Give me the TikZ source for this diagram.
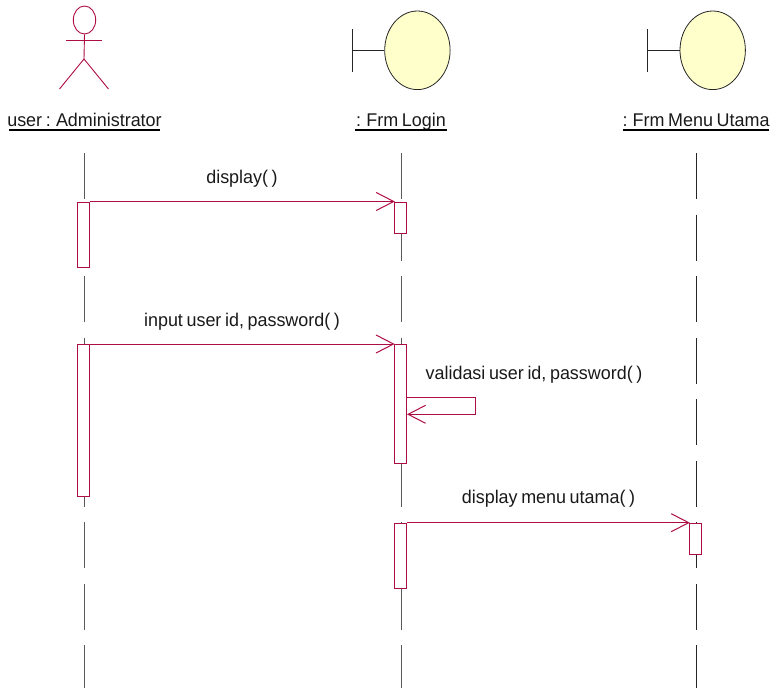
\documentclass[tikz,border=0pt]{standalone}
\usepackage{fontspec}
\setmainfont[FakeStretch=0.975,WordSpace=0.72]{Liberation Sans}
\usetikzlibrary{arrows.meta,shapes.geometric}
\definecolor{rose}{HTML}{AD0E42}
\definecolor{bound}{HTML}{FFFFCC}
\tikzset{
  x=1pt,y=-1pt,
  lifeline/.style={draw=#1,line width=1pt,dash pattern=on 46pt off 15.55pt},
  lifeline/.default={black!65},
  bar/.style={draw=rose,fill=white,line width=1pt,rectangle,minimum width=12.4pt,inner sep=0pt,anchor=north},
  msg/.style={draw=rose,line width=1pt,shorten >=-1pt,-{Straight Barb[length=17.5pt,width=18pt,line width=1pt]}},
  actorline/.style={draw=rose,line width=.9pt},
  stem/.style={draw=black!85,line width=.9pt},
  ball/.style={draw=black!85,fill=bound,line width=.8pt,ellipse,inner sep=0pt,minimum width=65.4pt,minimum height=78.6pt},
  txt/.style={inner sep=0pt,anchor=base,text=black!90,font=\fontsize{18.4}{20}\selectfont},
  title/.style={txt,text depth=3.2pt},
  uline/.style={draw=black,line width=1.5pt},
}
\begin{document}
\begin{tikzpicture}
\useasboundingbox (0,0) rectangle (777,688);
% lifelines
\coordinate (la) at (84,153); \coordinate (lae) at (84,688);
\coordinate (lb) at (401,153); \coordinate (lbe) at (401,688);
\coordinate (lc) at (696,153); \coordinate (lce) at (696,688);
\draw[lifeline] (la) -- (lae);
\draw[lifeline] (lb) -- (lbe);
\draw[lifeline=black!85] (lc) -- (lce);
% actor
\node[draw=rose,line width=.9pt,ellipse,inner sep=0pt,minimum width=22.4pt,minimum height=28pt] (head) at (84.5,20) {};
\coordinate (armL) at (66,40.3); \coordinate (armR) at (101.7,40.3);
\coordinate (hip) at (84,59); \coordinate (legL) at (59.5,89); \coordinate (legR) at (108.5,89);
\draw[actorline] (armL) -- (armR);
\draw[actorline] (head.south) -- (hip);
\draw[actorline] (legL) -- (hip) -- (legR);
% boundary objects
\node[ball] (login) at (417.4,50.3) {};
\coordinate (loginT) at (352.3,29.3); \coordinate (loginB) at (352.3,72); \coordinate (loginM) at (352.3,50.3);
\draw[stem] (loginT) -- (loginB);
\draw[stem] (loginM) -- (login.west);
\node[ball] (menu) at (712.7,50.3) {};
\coordinate (menuT) at (647.3,29.3); \coordinate (menuB) at (647.3,72); \coordinate (menuM) at (647.3,50.3);
\draw[stem] (menuT) -- (menuB);
\draw[stem] (menuM) -- (menu.west);
% titles
\node[title] (tA) at (84.5,126.5) {user : Administrator};
\node[title] (tB) at (401,126.5) {: Frm Login};
\node[title] (tC) at (696,126.5) {: Frm Menu Utama};
\draw[uline] (9,130) -- (160,130);
\draw[uline] (355,130) -- (446.7,130);
\draw[uline] (622.7,130) -- (769.3,130);
% activations
\node[bar,minimum height=65.5pt] (a1) at (83.5,201.5) {};
\node[bar,minimum height=31.5pt] (b1) at (400.5,201.5) {};
\node[bar,minimum height=152pt] (a2) at (83.5,344) {};
\node[bar,minimum height=119pt] (b2) at (400.3,344) {};
\node[bar,minimum height=65pt] (b3) at (400.3,522.7) {};
\node[bar,minimum height=31.6pt] (c1) at (695.5,522.7) {};
% messages
\draw[msg] (a1.north east) -- (b1.north west);
\draw[msg] (a2.north east) -- (b2.north west);
\draw[msg] (b3.north east) -- (c1.north west);
\coordinate (s0) at (b2.east |- 0,397.7);
\coordinate (s1) at (475.7,397.7);
\coordinate (s2) at (475.7,414.3);
\coordinate (s3) at (408,414.3);
\draw[msg] (s0) -- (s1) -- (s2) -- (s3);
% labels
\node[txt] (m1) at (242,183.5) {display( )};
\node[txt] (m2) at (242,326.5) {input user id, password( )};
\node[txt] (m3) at (534,379.5) {validasi user id, password( )};
\node[txt] (m4) at (548.5,503.5) {display menu utama( )};
\end{tikzpicture}
\end{document}
